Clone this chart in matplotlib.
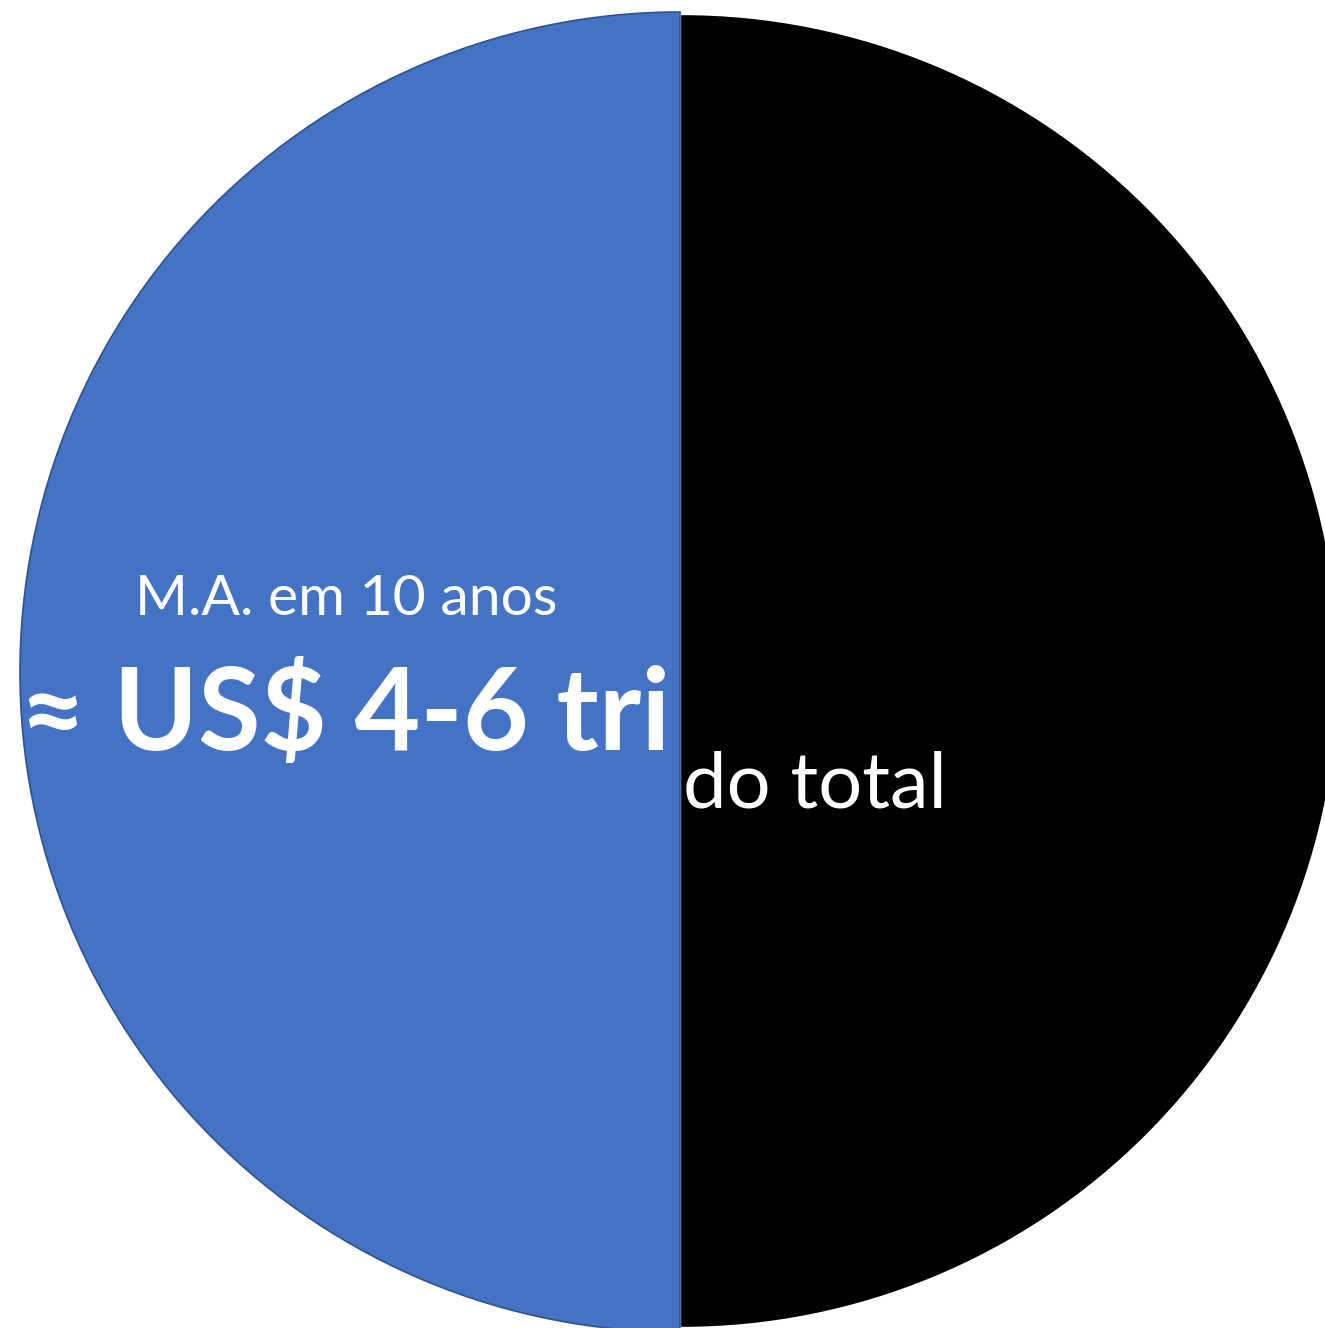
import matplotlib
matplotlib.use("Agg")
import matplotlib.pyplot as plt

labels = ["M.A.", "Resto"]
values = [50, 50]
colors = ["#4472C4", "#000000"]
title_small = "M.A. em 10 anos"
title_big = "≈ US$ 4-6 tri"
right_text = "do total"

W, H = 1325, 1328
fig = plt.figure(figsize=(W / 100, H / 100), dpi=100)
ax = fig.add_axes([0, 0, 1, 1])
ax.set_xlim(0, W)
ax.set_ylim(0, H)
ax.set_aspect("equal")
ax.axis("off")

wedges, _ = ax.pie(values, colors=colors, startangle=90, counterclock=True,
                   center=(680, H - 672), radius=660,
                   wedgeprops=dict(linewidth=1.2))
wedges[0].set_edgecolor("#2F528F")
wedges[1].set_edgecolor("#000000")
wedges[1].set_radius(655)
wedges[1].set_center((682, H - 671))
ax.set_xlim(0, W)
ax.set_ylim(0, H)

fam = ["Lato", "DejaVu Sans"]
ax.text(346, H - 615, title_small, color="white", fontsize=41, family=fam,
        ha="center", va="baseline")
ax.text(345, H - 750, title_big, color="white", fontsize=82, family=fam,
        fontweight="bold", ha="center", va="baseline")
ax.text(683, H - 808, right_text, color="white", fontsize=56, family=fam,
        ha="left", va="baseline")

fig.savefig("out.png", dpi=100)
